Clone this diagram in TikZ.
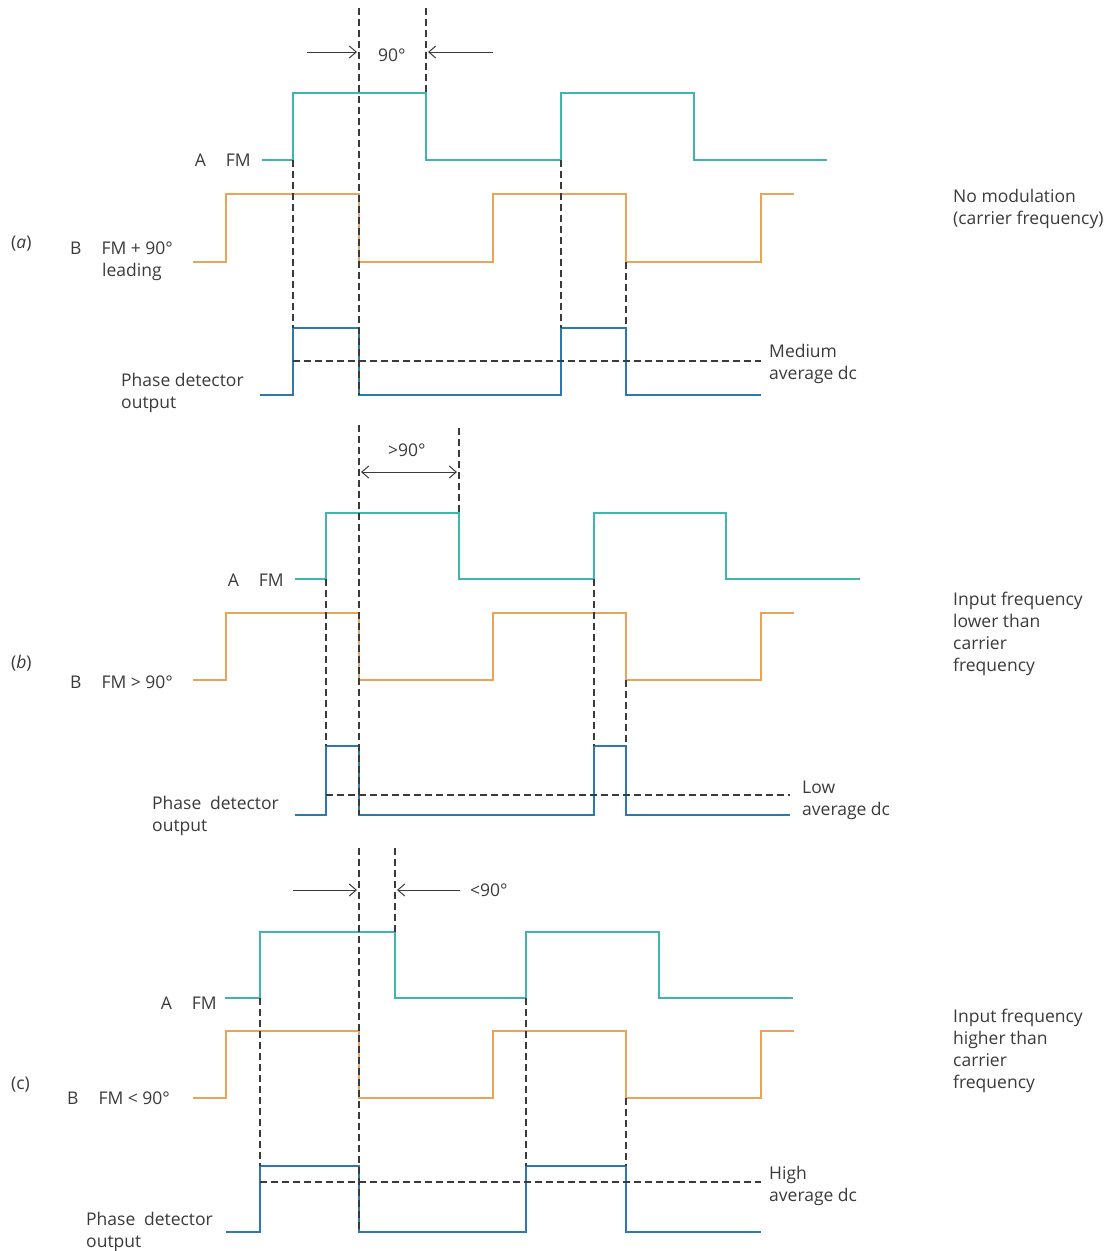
\documentclass[tikz,border=0pt]{standalone}
\usepackage{fontspec}
\setmainfont{Open Sans}
\usetikzlibrary{arrows.meta}
\definecolor{sigA}{HTML}{3FB5AE}
\definecolor{sigB}{HTML}{EAA35A}
\definecolor{sigOut}{HTML}{2D78AD}
\definecolor{ink}{HTML}{3A3A3A}
\tikzset{
  waveA/.style={sigA,line width=1.6pt},
  waveB/.style={sigB,line width=1.6pt},
  waveOut/.style={sigOut,line width=1.6pt},
  guide/.style={ink,line width=1.3pt,dash pattern=on 7pt off 4pt},
  dim/.style={ink,line width=1pt,-{Straight Barb[length=7pt,width=12pt]}},
  lbl/.style={text=ink,font=\fontsize{17.5}{22}\selectfont,inner sep=0pt,align=left,anchor=base west}
}
\newcommand{\gapp}{\hspace{20pt}}
\begin{document}
\begin{tikzpicture}[x=1pt,y=-1pt]
\useasboundingbox (0,0) rectangle (1115,1251);
% (a) no modulation
\draw[waveA] (262,160)--(293,160)--(293,93)--(426,93)--(426,160)--(561,160)--(561,93)--(694,93)--(694,160)--(827,160);
\draw[waveB] (193,262)--(226,262)--(226,194)--(359,194)--(359,262)--(493,262)--(493,194)--(626,194)--(626,262)--(761,262)--(761,194)--(794,194);
\draw[waveOut] (260,395)--(293,395)--(293,328)--(359,328)--(359,395)--(561,395)--(561,328)--(626,328)--(626,395)--(761,395);
\draw[guide] (359,8)--(359,395);
\draw[guide] (426,8)--(426,93);
\draw[guide] (293,160)--(293,328);
\draw[guide] (561,160)--(561,328);
\draw[guide] (626,262)--(626,328);
\draw[guide] (293,361)--(761,361);
\coordinate (a1) at (307,52);
\coordinate (a2) at (357,52);
\coordinate (a3) at (493,52);
\coordinate (a4) at (428,52);
\draw[dim] (a1)--(a2);
\draw[dim] (a3)--(a4);
\node[lbl] (angA) at (378,61){90°};
\node[lbl,anchor=base east] (aA) at (251,166){A\gapp FM};
\node[lbl] (tagA) at (11,248){(\textit{a})};
\node[lbl] (aB) at (70,276){B\gapp FM + 90°\\\hspace{32pt}leading};
\node[lbl] (aOut) at (121,408){Phase detector\\output};
\node[lbl] (aAvg) at (769,379){Medium\\average dc};
\node[lbl] (aNote) at (953,224){No modulation\\(carrier frequency)};
% (b) input lower than carrier
\draw[waveA] (295,579)--(326,579)--(326,513)--(459,513)--(459,579)--(594,579)--(594,513)--(726,513)--(726,579)--(860,579);
\draw[waveB] (193,680)--(226,680)--(226,613)--(359,613)--(359,680)--(493,680)--(493,613)--(626,613)--(626,680)--(761,680)--(761,613)--(794,613);
\draw[waveOut] (295,815)--(326,815)--(326,746)--(359,746)--(359,815)--(594,815)--(594,746)--(626,746)--(626,815)--(790,815);
\draw[guide] (359,425)--(359,815);
\draw[guide] (459,428)--(459,513);
\draw[guide] (326,579)--(326,746);
\draw[guide] (594,579)--(594,746);
\draw[guide] (626,680)--(626,746);
\draw[guide] (326,795)--(790,795);
\coordinate (b1) at (361,472);
\coordinate (b2) at (457,472);
\draw[dim,{Straight Barb[length=7pt,width=12pt]}-{Straight Barb[length=7pt,width=12pt]}] (b1)--(b2);
\node[lbl] (angB) at (388,456){>90°};
\node[lbl,anchor=base east] (bA) at (284,586){A\gapp FM};
\node[lbl] (tagB) at (11,668){(\textit{b})};
\node[lbl] (bB) at (70,688){B\gapp FM > 90°};
\node[lbl] (bOut) at (152,831){Phase\enspace detector\\output};
\node[lbl] (bAvg) at (802,815){Low\\average dc};
\node[lbl] (bNote) at (953,671){Input frequency\\lower than\\carrier\\frequency};
% (c) input higher than carrier
\draw[waveA] (225,998)--(260,998)--(260,932)--(395,932)--(395,998)--(526,998)--(526,932)--(659,932)--(659,998)--(793,998);
\draw[waveB] (193,1098)--(226,1098)--(226,1031)--(359,1031)--(359,1098)--(493,1098)--(493,1031)--(626,1031)--(626,1098)--(761,1098)--(761,1031)--(794,1031);
\draw[waveOut] (226,1232)--(260,1232)--(260,1166)--(359,1166)--(359,1232)--(526,1232)--(526,1166)--(626,1166)--(626,1232)--(761,1232);
\draw[guide] (359,848)--(359,1232);
\draw[guide] (395,848)--(395,932);
\draw[guide] (260,998)--(260,1166);
\draw[guide] (526,998)--(526,1166);
\draw[guide] (626,1098)--(626,1166);
\draw[guide] (260,1182)--(761,1182);
\coordinate (c1) at (293,890);
\coordinate (c2) at (357,890);
\coordinate (c3) at (460,890);
\coordinate (c4) at (397,890);
\draw[dim] (c1)--(c2);
\draw[dim] (c3)--(c4);
\node[lbl] (angC) at (470,896){<90°};
\node[lbl,anchor=base east] (cA) at (217,1009){A\gapp FM};
\node[lbl] (tagC) at (11,1089){(c)};
\node[lbl] (cB) at (67,1104){B\gapp FM < 90°};
\node[lbl] (cOut) at (86,1247){Phase\enspace detector\\output};
\node[lbl] (cAvg) at (769,1201){High\\average dc};
\node[lbl] (cNote) at (953,1088){Input frequency\\higher than\\carrier\\frequency};
\end{tikzpicture}
\end{document}
